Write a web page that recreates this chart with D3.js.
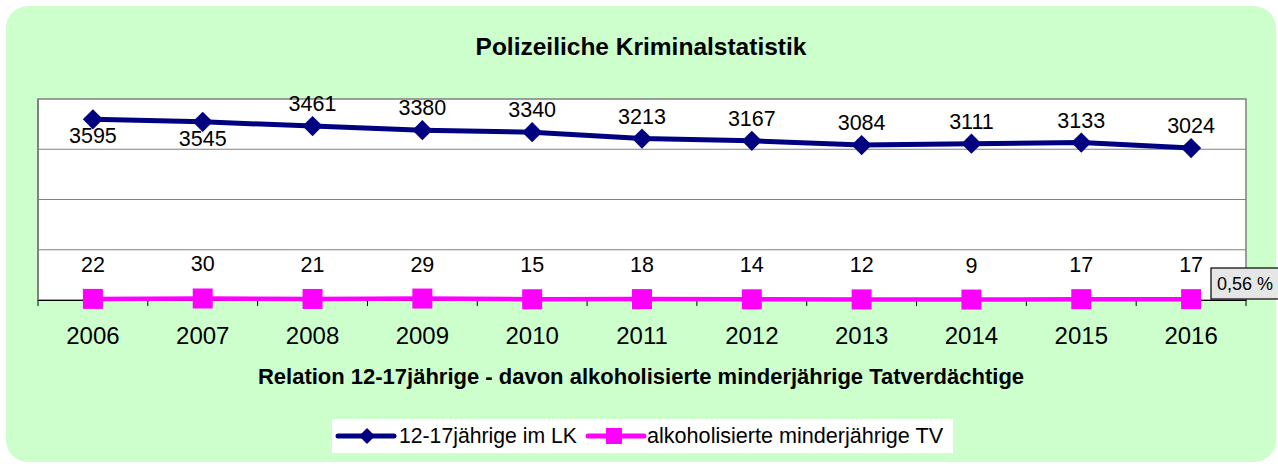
<!DOCTYPE html>
<html>
<head>
<meta charset="utf-8">
<script src="https://cdn.jsdelivr.net/npm/d3@7"></script>
<style>
  body { margin: 0; background: #fff; }
  text { font-family: "Liberation Sans", Arial, sans-serif; }
</style>
</head>
<body>
<svg id="chart" width="1278" height="464"></svg>
<script>
const years = ["2006", "2007", "2008", "2009", "2010", "2011", "2012", "2013", "2014", "2015", "2016"];
const youths = [3595, 3545, 3461, 3380, 3340, 3213, 3167, 3084, 3111, 3133, 3024];
const drunkSuspects = [22, 30, 21, 29, 15, 18, 14, 12, 9, 17, 17];
const yTicks = [0, 1000, 2000, 3000, 4000];
const seriesNames = ["12-17jährige im LK", "alkoholisierte minderjährige TV"];
const shareLabel = "0,56 %";

const svg = d3.select("#chart");
const plot = { left: 38, right: 1246, top: 99, bottom: 300 };

// background card
svg.append("rect")
  .attr("x", 6).attr("y", 6)
  .attr("width", 1270).attr("height", 456)
  .attr("rx", 22).attr("ry", 22)
  .attr("fill", "#ccffcc");

svg.append("text")
  .attr("x", 641).attr("y", 55)
  .attr("text-anchor", "middle")
  .attr("font-size", 24.5).attr("font-weight", "bold")
  .text("Polizeiliche Kriminalstatistik");

const x = d3.scaleBand().domain(years).range([plot.left, plot.right]);
const y = d3.scaleLinear().domain([0, 4000]).range([plot.bottom, plot.top]);

// plot area
svg.append("rect")
  .attr("x", plot.left).attr("y", plot.top)
  .attr("width", plot.right - plot.left).attr("height", plot.bottom - plot.top)
  .attr("fill", "#fff")
  .attr("stroke", "#808080").attr("stroke-width", 1.5);

// gridlines
svg.append("g")
  .selectAll("line")
  .data(yTicks.slice(1, -1))
  .join("line")
  .attr("x1", plot.left).attr("x2", plot.right)
  .attr("y1", d => y(d)).attr("y2", d => y(d))
  .attr("stroke", "#808080").attr("stroke-width", 1.2);

// left axis line
svg.append("line")
  .attr("x1", plot.left).attr("x2", plot.left)
  .attr("y1", plot.top).attr("y2", plot.bottom)
  .attr("stroke", "#808080").attr("stroke-width", 2);

// x axis, ticks sit on the band edges
const xAxis = svg.append("g")
  .attr("transform", "translate(0," + plot.bottom + ")")
  .call(d3.axisBottom(x).tickSize(0));
xAxis.select(".domain").attr("stroke", "#000").attr("stroke-width", 1.2);
xAxis.selectAll("text")
  .attr("y", 44).attr("dy", 0)
  .attr("font-size", 24)
  .attr("fill", "#000")
  .attr("font-family", "Liberation Sans, Arial, sans-serif");

const edges = years.map(d => x(d)).concat([plot.right]);
svg.append("g")
  .selectAll("line")
  .data(edges)
  .join("line")
  .attr("x1", d => d).attr("x2", d => d)
  .attr("y1", plot.bottom).attr("y2", plot.bottom + 6)
  .attr("stroke", "#000").attr("stroke-width", 1);

svg.append("text")
  .attr("x", 641).attr("y", 384)
  .attr("text-anchor", "middle")
  .attr("font-size", 22).attr("font-weight", "bold")
  .text("Relation 12-17jährige - davon alkoholisierte minderjährige Tatverdächtige");

const cx = d => x(d) + x.bandwidth() / 2;
const line = d3.line().x((d, i) => cx(years[i])).y(d => y(d));

// pink series
svg.append("path")
  .datum(drunkSuspects)
  .attr("d", line)
  .attr("fill", "none")
  .attr("stroke", "#ff00ff").attr("stroke-width", 4.5);

svg.append("g")
  .selectAll("rect")
  .data(drunkSuspects)
  .join("rect")
  .attr("x", (d, i) => cx(years[i]) - 10)
  .attr("y", d => y(d) - 10)
  .attr("width", 20).attr("height", 20)
  .attr("fill", "#ff00ff");

svg.append("g")
  .selectAll("text")
  .data(drunkSuspects)
  .join("text")
  .attr("x", (d, i) => cx(years[i]))
  .attr("y", d => y(d) - 27)
  .attr("text-anchor", "middle")
  .attr("font-size", 21.5)
  .text(d => d);

// navy series
svg.append("path")
  .datum(youths)
  .attr("d", line)
  .attr("fill", "none")
  .attr("stroke", "#000080").attr("stroke-width", 5);

const diamond = d3.symbol().type(d3.symbolDiamond2).size(260);
svg.append("g")
  .selectAll("path")
  .data(youths)
  .join("path")
  .attr("transform", (d, i) => "translate(" + cx(years[i]) + "," + y(d) + ")")
  .attr("d", diamond)
  .attr("fill", "#000080");

svg.append("g")
  .selectAll("text")
  .data(youths)
  .join("text")
  .attr("x", (d, i) => cx(years[i]))
  .attr("y", (d, i) => i < 2 ? y(d) + 24 : y(d) - 15)
  .attr("text-anchor", "middle")
  .attr("font-size", 21.5)
  .text(d => d);

// share box
const share = svg.append("g").attr("transform", "translate(1211,268)");
share.append("rect")
  .attr("width", 68).attr("height", 31)
  .attr("fill", "#e6e6e6").attr("stroke", "#000").attr("stroke-width", 1.2);
share.append("text")
  .attr("x", 6).attr("y", 22)
  .attr("font-size", 18)
  .text(shareLabel);

// legend
const legend = svg.append("g").attr("transform", "translate(332,419)");
legend.append("rect")
  .attr("width", 621).attr("height", 34)
  .attr("fill", "#fff");

const l1 = legend.append("g").attr("transform", "translate(0,17)");
l1.append("line").attr("x1", 6).attr("x2", 62)
  .attr("stroke", "#000080").attr("stroke-width", 5).attr("stroke-linecap", "round");
l1.append("path").attr("transform", "translate(35,0)")
  .attr("d", d3.symbol().type(d3.symbolDiamond2).size(160))
  .attr("fill", "#000080");
l1.append("text").attr("x", 67).attr("y", 7)
  .attr("font-size", 21.2).text(seriesNames[0]);

const l2 = legend.append("g").attr("transform", "translate(254,17)");
l2.append("line").attr("x1", 2).attr("x2", 58)
  .attr("stroke", "#ff00ff").attr("stroke-width", 5).attr("stroke-linecap", "round");
l2.append("rect").attr("x", 20).attr("y", -8).attr("width", 16).attr("height", 16)
  .attr("fill", "#ff00ff");
l2.append("text").attr("x", 61).attr("y", 7)
  .attr("font-size", 21.6).text(seriesNames[1]);
</script>
</body>
</html>
